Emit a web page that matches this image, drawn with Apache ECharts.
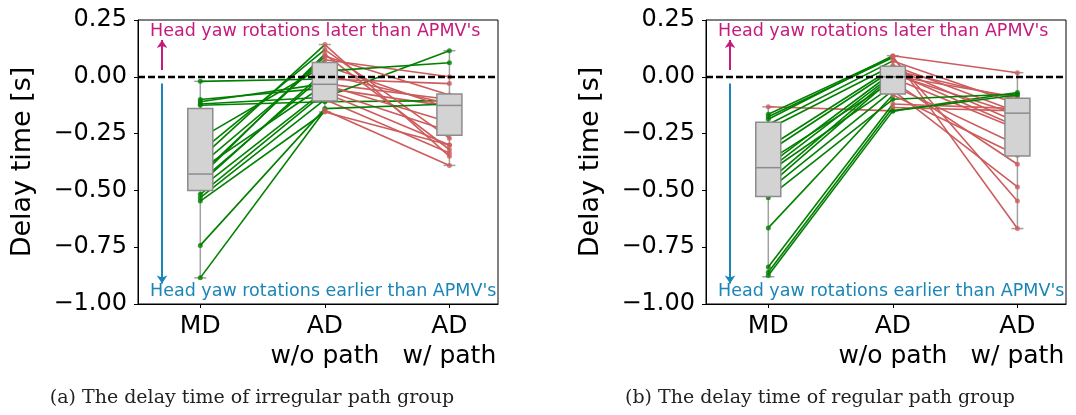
<!DOCTYPE html>
<html>
<head>
<meta charset="utf-8">
<script src="https://cdn.jsdelivr.net/npm/echarts@6/dist/echarts.min.js"></script>
<style>
  html, body { margin: 0; padding: 0; background: #fff; }
  #chart { width: 1076px; height: 415px; }
</style>
</head>
<body>
<div id="chart"></div>
<script>
// x categories (placed at 0, 1, 2 on a value axis)
var categories = ['MD', 'AD\nw/o path', 'AD\nw/ path'];
var catPos = [0, 1, 2];

// (a) irregular path group: one value per participant [s]
var irrMD = [-0.02, -0.10, -0.11, -0.12, -0.125, -0.27, -0.33, -0.36, -0.39, -0.41,
             -0.43, -0.44, -0.46, -0.47, -0.49, -0.517, -0.532, -0.547, -0.742, -0.885];
var irrWo = [-0.01, -0.05, -0.03, -0.09, -0.11, 0.05, 0.12, 0.142, 0.075, -0.035,
             0.09, 0.10, 0.01, 0.025, -0.06, -0.07, -0.10, -0.155, -0.14, -0.147];
var irrW  = [-0.03, -0.13, -0.10, 0.115, -0.105, -0.14, -0.27, -0.35, 0.0, -0.20,
             -0.08, -0.32, -0.12, 0.062, -0.24, -0.30, -0.335, -0.30, -0.12, -0.39];
// boxes: [min, q1, median, q3, max]
var irrBox = [[-0.885, -0.50, -0.428, -0.14, -0.02],
              [-0.155, -0.106, -0.033, 0.063, 0.142],
              [-0.39, -0.257, -0.126, -0.076, 0.115]];

// (b) regular path group
var regMD = [-0.132, -0.165, -0.176, -0.187, -0.21, -0.23, -0.31, -0.33, -0.37, -0.39,
             -0.41, -0.42, -0.46, -0.48, -0.50, -0.532, -0.665, -0.837, -0.86, -0.875];
var regWo = [-0.15, 0.09, 0.085, 0.093, 0.07, 0.05, 0.04, 0.03, -0.02, 0.02,
             0.01, -0.04, 0.005, -0.005, -0.06, -0.099, -0.08, -0.12, -0.135, -0.15];
var regW  = [-0.069, -0.668, -0.547, 0.018, -0.12, -0.155, -0.20, -0.10, -0.385, -0.22,
             -0.165, -0.30, -0.09, -0.23, -0.485, -0.076, -0.345, -0.14, -0.15, -0.08];
var regBox = [[-0.88, -0.527, -0.40, -0.20, -0.132],
              [-0.15, -0.076, 0.0, 0.046, 0.093],
              [-0.668, -0.349, -0.16, -0.094, 0.018]];

// arrows: x position and y ranges in data units
var arrowX = -0.307;
var upArrow = [0.03, 0.162];
var downArrow = [-0.03, -0.91];

var GREEN = '#008000';
var RED = '#cd5c5c';
var PINK = '#c51b7d';
var BLUE = '#1a85b8';
var BOXEDGE = '#8c8c8c';

var panels = [
  {md: irrMD, wo: irrWo, w: irrW, box: irrBox, left: 138, caption: '(a) The delay time of irregular path group', capX: 252},
  {md: regMD, wo: regWo, w: regW, box: regBox, left: 706, caption: '(b) The delay time of regular path group', capX: 820}
];

var grids = [], xAxes = [], yAxes = [], series = [], graphics = [];

function boxData(box) {
  return box.map(function (b, i) { return [catPos[i]].concat(b); });
}

// whiskers + caps (drawn under the lines)
function renderWhisker(params, api) {
  var x = api.value(0);
  var lo = api.coord([x, api.value(1)]);
  var hi = api.coord([x, api.value(5)]);
  var cw = 6;
  var st = {stroke: '#a0a0a0', lineWidth: 1.5};
  return {type: 'group', children: [
    {type: 'line', shape: {x1: lo[0], y1: lo[1], x2: hi[0], y2: hi[1]}, style: st},
    {type: 'line', shape: {x1: lo[0] - cw, y1: lo[1], x2: lo[0] + cw, y2: lo[1]}, style: st},
    {type: 'line', shape: {x1: hi[0] - cw, y1: hi[1], x2: hi[0] + cw, y2: hi[1]}, style: st}
  ]};
}

// box + median (drawn over the lines)
function renderBox(params, api) {
  var x = api.value(0);
  var q1 = api.coord([x, api.value(2)]);
  var md = api.coord([x, api.value(3)]);
  var q3 = api.coord([x, api.value(4)]);
  var hw = 12.5;
  return {type: 'group', children: [
    {type: 'rect', shape: {x: q3[0] - hw, y: q3[1], width: hw * 2, height: q1[1] - q3[1]},
     style: {fill: '#d3d3d3', stroke: BOXEDGE, lineWidth: 1.5}},
    {type: 'line', shape: {x1: md[0] - hw, y1: md[1], x2: md[0] + hw, y2: md[1]},
     style: {stroke: BOXEDGE, lineWidth: 1.5}}
  ]};
}

panels.forEach(function (p, k) {
  grids.push({left: p.left, top: 20, width: 360, height: 284, show: true,
    borderColor: '#000', borderWidth: 1, backgroundColor: 'transparent',
    containLabel: false, outerBoundsMode: 'none'});

  xAxes.push({
    gridIndex: k, type: 'value', min: -0.5, max: 2.39,
    axisLine: {show: true, onZero: false, lineStyle: {color: '#000', width: 1}},
    axisTick: {show: true, customValues: catPos, length: 4, lineStyle: {color: '#000'}},
    axisLabel: {show: true, customValues: catPos, margin: 7, fontSize: 25, lineHeight: 30,
      color: '#000', fontFamily: 'DejaVu Sans',
      formatter: function (v) { return categories[Math.round(v)]; }},
    splitLine: {show: false}
  });

  yAxes.push({
    gridIndex: k, type: 'value', min: -1, max: 0.25, interval: 0.25,
    name: 'Delay time [s]', nameLocation: 'middle', nameRotate: 90, nameGap: 102,
    nameTextStyle: {fontSize: 27, color: '#000', fontFamily: 'DejaVu Sans'},
    axisLine: {show: true, onZero: false, lineStyle: {color: '#000', width: 1}},
    axisTick: {show: true, length: 4, lineStyle: {color: '#000'}},
    axisLabel: {margin: 11, fontSize: 24, color: '#000', fontFamily: 'DejaVu Sans',
      formatter: function (v) { return (v < 0 ? '\u2212' : '') + Math.abs(v).toFixed(2); }},
    splitLine: {show: false}
  });

  // participant lines and dots
  var segs = [], dots = [];
  for (var i = 0; i < p.md.length; i++) {
    var c1 = p.wo[i] >= p.md[i] ? GREEN : RED;
    var c2 = p.w[i] >= p.wo[i] ? GREEN : RED;
    segs.push({coords: [[catPos[0], p.md[i]], [catPos[1], p.wo[i]]], lineStyle: {color: c1}});
    segs.push({coords: [[catPos[1], p.wo[i]], [catPos[2], p.w[i]]], lineStyle: {color: c2}});
    dots.push({value: [catPos[0], p.md[i]], itemStyle: {color: c1}});
    dots.push({value: [catPos[1], p.wo[i]], itemStyle: {color: c2}});
    dots.push({value: [catPos[2], p.w[i]], itemStyle: {color: c2}});
  }

  series.push({
    type: 'custom', xAxisIndex: k, yAxisIndex: k, z: 1, silent: true,
    renderItem: renderWhisker, data: boxData(p.box), encode: {x: 0, y: [1, 2, 3, 4, 5]}
  });
  series.push({
    type: 'lines', coordinateSystem: 'cartesian2d', xAxisIndex: k, yAxisIndex: k, z: 2,
    silent: true, lineStyle: {width: 1.6, opacity: 1}, data: segs,
    markLine: {silent: true, symbol: 'none', label: {show: false},
      lineStyle: {color: '#000', type: [7, 3], width: 2.4}, data: [{yAxis: 0}]}
  });
  series.push({
    type: 'scatter', xAxisIndex: k, yAxisIndex: k, z: 3, silent: true,
    symbolSize: 5, data: dots
  });
  series.push({
    type: 'custom', xAxisIndex: k, yAxisIndex: k, z: 4, silent: true,
    renderItem: renderBox, data: boxData(p.box), encode: {x: 0, y: [1, 2, 3, 4, 5]}
  });
  // direction arrows
  series.push({
    type: 'lines', coordinateSystem: 'cartesian2d', xAxisIndex: k, yAxisIndex: k, z: 5,
    silent: true, symbol: ['none', 'arrow'], symbolSize: 8,
    lineStyle: {width: 2, opacity: 1},
    data: [
      {coords: [[arrowX, upArrow[0]], [arrowX, upArrow[1]]], lineStyle: {color: PINK}},
      {coords: [[arrowX, downArrow[0]], [arrowX, downArrow[1]]], lineStyle: {color: BLUE}}
    ]
  });

  graphics.push({type: 'text', left: p.left + 12, top: 22, z: 10,
    style: {text: "Head yaw rotations later than APMV's", fill: PINK, fontSize: 17.5, fontFamily: 'DejaVu Sans'}});
  graphics.push({type: 'text', left: p.left + 12, top: 282, z: 10,
    style: {text: "Head yaw rotations earlier than APMV's", fill: BLUE, fontSize: 17.5, fontFamily: 'DejaVu Sans'}});
  graphics.push({type: 'text', x: p.capX, y: 398, z: 10,
    style: {text: p.caption, fill: '#222', fontSize: 19, fontFamily: 'DejaVu Serif',
      align: 'center', verticalAlign: 'middle'}});
});

var chart = echarts.init(document.getElementById('chart'));
chart.setOption({
  animation: false,
  backgroundColor: '#fff',
  textStyle: {fontFamily: 'DejaVu Sans'},
  grid: grids,
  xAxis: xAxes,
  yAxis: yAxes,
  series: series,
  graphic: graphics
});
</script>
</body>
</html>
